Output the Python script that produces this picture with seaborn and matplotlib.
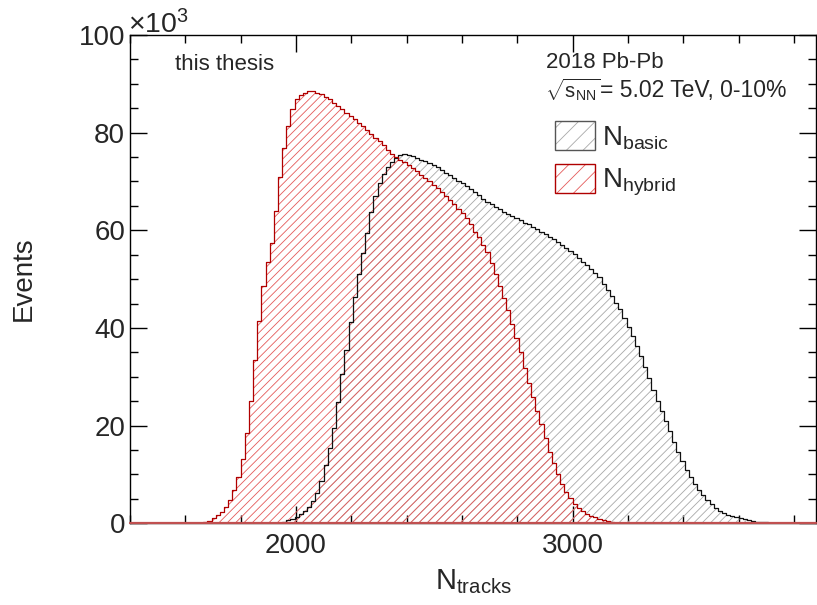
import numpy as np
import pandas as pd
import matplotlib
matplotlib.use("Agg")
import matplotlib.pyplot as plt
import seaborn as sns
from matplotlib.patches import Patch
from matplotlib.ticker import MultipleLocator

# Track multiplicity per event, 15-track bins, counts in units of 10^3 events
bin_width = 15

hybrid_first_edge = 1650
hybrid_counts = [
    0.05, 0.25, 0.55, 1.0, 1.6, 2.4, 3.3, 4.8, 6.8, 9.4,
    13.2, 18.5, 25.0, 33.5, 41.5, 48.5, 53.5, 57.5, 64.0, 71.0,
    76.8, 81.3, 84.8, 86.8, 87.7, 88.2, 88.5, 88.5, 88.2, 87.9,
    87.3, 86.8, 86.0, 85.4, 84.8, 84.1, 83.4, 82.7, 82.0, 81.3,
    80.5, 79.8, 79.0, 78.3, 77.4, 76.5, 75.6, 75.1, 74.5, 74.0,
    73.4, 72.8, 72.1, 71.4, 70.7, 70.0, 69.3, 68.6, 67.9, 67.1,
    66.2, 65.3, 64.4, 63.5, 62.5, 61.2, 59.7, 58.6, 57.0, 55.5,
    53.4, 51.1, 48.6, 46.1, 43.6, 40.8, 37.9, 35.0, 31.8, 28.7,
    25.9, 23.1, 20.3, 17.4, 14.6, 12.3, 10.1, 8.1, 6.5, 5.1,
    4.0, 3.1, 2.5, 1.9, 1.5, 1.2, 0.95, 0.7, 0.5, 0.3,
    0.15, 0.05,
]

basic_first_edge = 1935
basic_counts = [
    0.1, 0.3, 0.6, 0.9, 1.3, 1.9, 2.6, 3.3, 4.5, 6.2,
    8.6, 12.0, 15.5, 19.6, 24.9, 30.5, 35.4, 41.2, 46.3, 51.1,
    55.3, 59.4, 63.8, 67.0, 69.6, 71.6, 73.0, 74.0, 74.9, 75.4,
    75.6, 75.5, 75.2, 74.8, 74.4, 74.1, 73.8, 73.4, 72.9, 72.3,
    71.8, 71.3, 70.8, 70.2, 69.7, 69.1, 68.4, 67.8, 67.2, 66.5,
    65.8, 65.3, 64.8, 64.3, 63.8, 63.3, 62.9, 62.5, 62.1, 61.6,
    61.2, 60.7, 60.2, 59.7, 59.2, 58.7, 58.2, 57.6, 57.0, 56.4,
    55.8, 55.1, 54.4, 53.6, 52.9, 52.1, 51.3, 50.4, 49.1, 47.8,
    46.5, 45.2, 43.8, 42.1, 40.3, 38.4, 36.4, 34.2, 32.0, 29.7,
    27.4, 25.1, 23.0, 21.0, 19.0, 16.7, 14.5, 12.7, 11.0, 9.4,
    8.0, 6.8, 5.7, 4.7, 3.9, 3.2, 2.6, 2.1, 1.8, 1.5,
    1.25, 1.0, 0.8, 0.6, 0.45, 0.35, 0.25, 0.2, 0.15,
]

series_labels = [r"$\mathrm{N}_{\mathrm{basic}}$", r"$\mathrm{N}_{\mathrm{hybrid}}$"]
x_limits = (1400, 3880)
y_limits = (0, 100)


def histogram_frame(first_edge, counts):
    edges = first_edge + bin_width * np.arange(len(counts) + 1)
    centers = 0.5 * (edges[:-1] + edges[1:])
    df = pd.DataFrame({"ntracks": centers, "events": counts})
    return df, (float(edges[0]), float(edges[-1]))


basic_df, basic_range = histogram_frame(basic_first_edge, basic_counts)
hybrid_df, hybrid_range = histogram_frame(hybrid_first_edge, hybrid_counts)

sns.set_style("ticks")
plt.rcParams["font.family"] = ["Liberation Sans", "DejaVu Sans"]
plt.rcParams["mathtext.fontset"] = "custom"
plt.rcParams["mathtext.rm"] = "Liberation Sans"
plt.rcParams["mathtext.it"] = "Liberation Sans:italic"
plt.rcParams["mathtext.bf"] = "Liberation Sans:bold"
plt.rcParams["hatch.linewidth"] = 0.6

basic_hatch, basic_line = "#a8a8a8", "#111111"
hybrid_hatch, hybrid_line = "#e45a5a", "#b00000"

fig = plt.figure(figsize=(8.17, 6.05), dpi=100)
ax = fig.add_axes([130 / 817, 1 - 523.3 / 605, (816 - 130) / 817, (523.3 - 35) / 605])


def hatched_fill(df, brange, color):
    sns.histplot(data=df, x="ntracks", weights="events", binwidth=bin_width,
                 binrange=brange, element="step", fill=True, color=color,
                 ax=ax, legend=False)
    coll = ax.collections[-1]
    coll.set_alpha(None)
    coll.set_facecolor("none")
    coll.set_edgecolor(color)
    coll.set_linewidth(0)
    coll.set_hatch("////")


def outline(df, brange, color):
    sns.histplot(data=df, x="ntracks", weights="events", binwidth=bin_width,
                 binrange=brange, element="step", fill=False, color=color,
                 linewidth=0.9, ax=ax, legend=False)


hatched_fill(basic_df, basic_range, basic_hatch)
hatched_fill(hybrid_df, hybrid_range, hybrid_hatch)
outline(basic_df, basic_range, basic_line)
outline(hybrid_df, hybrid_range, hybrid_line)
ax.axhline(0, color="#c05050", lw=1.6, zorder=5, clip_on=False)

ax.set_xlim(*x_limits)
ax.set_ylim(*y_limits)
ax.xaxis.set_major_locator(MultipleLocator(1000))
ax.xaxis.set_minor_locator(MultipleLocator(200))
ax.yaxis.set_major_locator(MultipleLocator(20))
ax.yaxis.set_minor_locator(MultipleLocator(5))
ax.tick_params(which="both", direction="in", top=True, right=True, width=1, color="black")
ax.tick_params(which="major", length=12.5, labelsize=20)
ax.tick_params(which="minor", length=6)
ax.tick_params(axis="x", pad=7)
ax.tick_params(axis="y", pad=3.5)
for sp in ax.spines.values():
    sp.set_linewidth(1)
    sp.set_color("black")

ax.set_xlabel(r"$\mathrm{N}_{\mathrm{tracks}}$", fontsize=21)
ax.set_ylabel("Events", fontsize=20)
ax.xaxis.set_label_coords(0.5, -0.09)
ax.yaxis.set_label_coords(-0.136, 0.5)

fig.text(128 / 817, 1 - 33 / 605, r"$\times10^{3}$", fontsize=20.5, ha="left", va="baseline")
fig.text(175 / 817, 1 - 70 / 605, "this thesis", fontsize=16, ha="left", va="baseline")
fig.text(546 / 817, 1 - 68 / 605, "2018 Pb-Pb", fontsize=16, ha="left", va="baseline")
fig.text(545 / 817, 1 - 97 / 605, r"$\sqrt{\mathrm{s}_{\mathrm{NN}}}$",
         fontsize=14.5, ha="left", va="baseline")
fig.text(600 / 817, 1 - 97 / 605, "= 5.02 TeV, 0-10%",
         fontsize=16.5, ha="left", va="baseline")

handles = [
    (Patch(facecolor="none", edgecolor=basic_hatch, hatch="//", lw=0),
     Patch(facecolor="none", edgecolor="#555555", lw=1.0)),
    (Patch(facecolor="none", edgecolor=hybrid_hatch, hatch="//", lw=0),
     Patch(facecolor="none", edgecolor=hybrid_line, lw=1.0)),
]
ax.legend(handles, series_labels, loc="upper left",
          bbox_to_anchor=(536 / 817, 1 - 102 / 605), bbox_transform=fig.transFigure,
          frameon=False, fontsize=20, handlelength=1.44, handleheight=1.2,
          labelspacing=0.45, handletextpad=0.25, borderpad=0.2)

fig.savefig("out.png", dpi=100)
